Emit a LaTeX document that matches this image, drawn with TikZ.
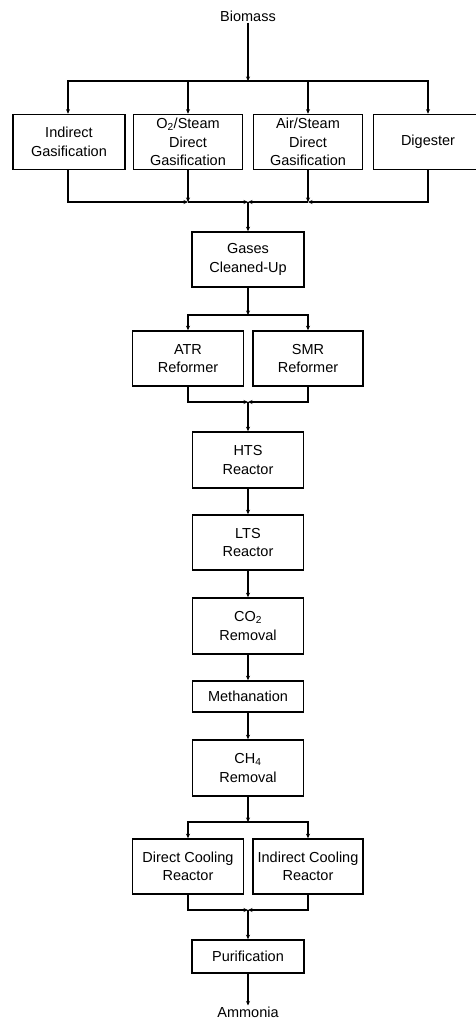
\documentclass[tikz,border=0pt]{standalone}
\usepackage{fontspec}
\setmainfont{Liberation Sans}
\usetikzlibrary{arrows.meta}
\begin{document}
\begin{tikzpicture}[x=1pt,y=-1pt,
  box/.style={draw, line width=1.6pt, align=center, inner sep=0pt,
    font=\fontsize{14.5}{18.5}\selectfont, minimum height=55pt},
  lbl/.style={align=center, inner sep=1pt, font=\fontsize{14.5}{18.5}\selectfont},
  conn/.style={line width=1.4pt, -{Stealth[length=4.5pt,width=4pt]}}]
\useasboundingbox (0,0) rectangle (476,1019);
\clip (0,0) rectangle (476,1019);
% nodes
\node[lbl] (bio) at (248,16) {Biomass};
\node[box, minimum width=112pt] (ind) at (69,142) {Indirect\\Gasification};
\node[box, minimum width=109pt] (o2) at (188,142) {O\textsubscript{2}/Steam\\Direct\\Gasification};
\node[box, minimum width=109pt] (air) at (308,142) {Air/Steam\\Direct\\Gasification};
\node[box, minimum width=109pt] (dig) at (428,142) {Digester};
\node[box, minimum width=112pt] (gas) at (248,259.5) {Gases\\Cleaned-Up};
\node[box, minimum width=111pt] (atr) at (188,358.5) {ATR\\Reformer};
\node[box, minimum width=110pt] (smr) at (308,358.5) {SMR\\Reformer};
\node[box, minimum width=111pt, minimum height=56pt] (hts) at (248,460) {HTS\\Reactor};
\node[box, minimum width=111pt] (lts) at (248,542.5) {LTS\\Reactor};
\node[box, minimum width=111pt, minimum height=56pt] (co2) at (248,626) {CO\textsubscript{2}\\Removal};
\node[box, minimum width=111pt, minimum height=31pt] (meth) at (248,696.5) {Methanation};
\node[box, minimum width=111pt, minimum height=56pt] (ch4) at (248,768) {CH\textsubscript{4}\\Removal};
\node[box, minimum width=111pt] (dcr) at (188,866.5) {Direct Cooling\\Reactor};
\node[box, minimum width=110pt] (icr) at (308,866.5) {Indirect Cooling\\Reactor};
\node[box, minimum width=112pt, minimum height=33pt] (pur) at (248,956.5) {Purification};
\node[lbl] (amm) at (248,1012) {Ammonia};
% junctions
\coordinate (t1) at (248,81);
\coordinate (j1) at (188,202);
\coordinate (j2) at (308,202);
\coordinate (jc) at (248,202);
\coordinate (t2) at (248,315);
\coordinate (j3) at (248,402);
\coordinate (t3) at (248,822);
\coordinate (j4) at (248,910);
% top split
\draw[conn] (bio) -- (t1);
\draw[conn] (t1) -| (ind.north -| 68,0);
\draw[conn] (t1) -| (o2);
\draw[conn] (t1) -| (air);
\draw[conn] (t1) -| (dig);
% gasifier merge
\draw[conn] (ind.south -| 68,0) |- (j1);
\draw[conn] (o2) -- (j1);
\draw[conn] (j1) -- (jc);
\draw[conn] (dig) |- (j2);
\draw[conn] (air) -- (j2);
\draw[conn] (j2) -- (jc);
\draw[conn] (jc) -- (gas);
% reformers
\draw[conn] (gas) -- (t2);
\draw[conn] (t2) -| (atr);
\draw[conn] (t2) -| (smr);
\draw[conn] (atr) |- (j3);
\draw[conn] (smr) |- (j3);
\draw[conn] (j3) -- (hts);
% chain
\draw[conn] (hts) -- (lts);
\draw[conn] (lts) -- (co2);
\draw[conn] (co2) -- (meth);
\draw[conn] (meth) -- (ch4);
% cooling
\draw[conn] (ch4) -- (t3);
\draw[conn] (t3) -| (dcr);
\draw[conn] (t3) -| (icr);
\draw[conn] (dcr) |- (j4);
\draw[conn] (icr) |- (j4);
\draw[conn] (j4) -- (pur);
\draw[conn] (pur) -- (amm);
\end{tikzpicture}
\end{document}
